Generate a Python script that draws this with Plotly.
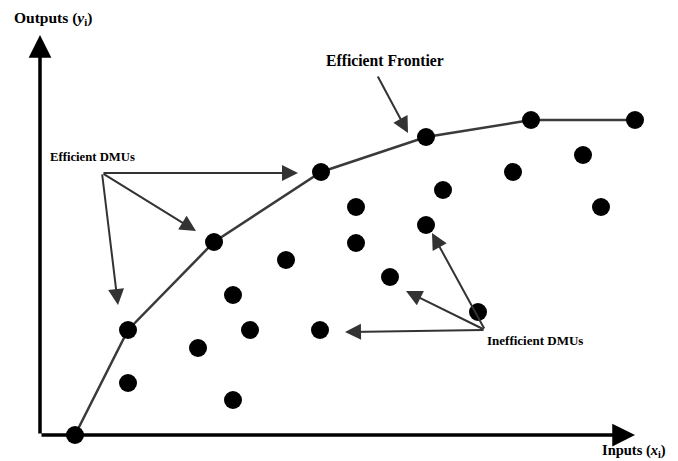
import plotly.graph_objects as go

# Efficient DMUs (on the frontier): inputs x, outputs y
eff_x = [3.5, 8.8, 17.4, 28.1, 38.6, 49.1, 59.5]
eff_y = [0.0, 10.5, 19.3, 26.3, 29.8, 31.5, 31.5]

# Inefficient DMUs
ineff_x = [8.8, 15.8, 19.3, 19.3, 21.0, 24.6, 28.0, 31.6, 31.6, 35.0, 38.6, 40.3, 43.8, 47.3, 54.3, 56.1]
ineff_y = [5.2, 8.7, 3.5, 14.0, 10.5, 17.5, 10.5, 22.8, 19.2, 15.8, 21.0, 24.5, 12.3, 26.3, 28.0, 22.8]

# Callout arrows: (tail_x, tail_y, tip_x, tip_y)
frontier_arrow = [(33.7, 36.0, 36.8, 30.2)]
eff_arrows = [(6.2, 26.2, 25.8, 26.2), (6.2, 26.2, 15.6, 20.4), (6.2, 26.2, 7.8, 13.0)]
ineff_arrows = [(44.5, 10.5, 39.2, 20.2), (44.5, 10.5, 36.6, 14.4), (44.5, 10.5, 30.5, 10.3)]
axis_arrows = [(0, 0, 0, 40.0), (0, 0, 59.5, 0)]

FONT = "Liberation Serif"

fig = go.Figure()
fig.add_trace(go.Scatter(x=eff_x, y=eff_y, mode="lines",
                         line=dict(color="#3a3a3a", width=2.5), hoverinfo="skip"))
fig.add_trace(go.Scatter(x=eff_x + ineff_x, y=eff_y + ineff_y, mode="markers",
                         marker=dict(color="black", size=18), hoverinfo="skip"))

ann = []
for (tx, ty, hx, hy) in axis_arrows:
    ann.append(dict(x=hx, y=hy, ax=tx, ay=ty, xref="x", yref="y", axref="x", ayref="y",
                    text="", showarrow=True, arrowhead=2, arrowsize=1.3, arrowwidth=3.5,
                    arrowcolor="black", standoff=0, startstandoff=0))
for (tx, ty, hx, hy) in frontier_arrow + eff_arrows + ineff_arrows:
    ann.append(dict(x=hx, y=hy, ax=tx, ay=ty, xref="x", yref="y", axref="x", ayref="y",
                    text="", showarrow=True, arrowhead=2, arrowsize=1.6, arrowwidth=2,
                    arrowcolor="#333333", standoff=0, startstandoff=0))

labels = [
    ("<b>Outputs (<i>y</i><sub>i</sub>)</b>", -2.8, 41.7, "left", 15.5),
    ("<b>Efficient Frontier</b>", 34.5, 37.5, "center", 15.7),
    ("<b>Efficient DMUs</b>", 0.8, 27.8, "left", 12.7),
    ("<b>Inefficient DMUs</b>", 44.5, 9.5, "left", 13),
    ("<b>Inputs (<i>x</i><sub>i</sub>)</b>", 56.0, -1.6, "left", 14.5),
]
for (t, x, y, xa, s) in labels:
    ann.append(dict(x=x, y=y, xref="x", yref="y", text=t, showarrow=False,
                    xanchor=xa, yanchor="middle", font=dict(family=FONT, size=s, color="black")))

fig.update_layout(
    width=670, height=453,
    margin=dict(l=0, r=0, t=0, b=0),
    paper_bgcolor="white", plot_bgcolor="white",
    showlegend=False,
    xaxis=dict(range=[-3.2, 63.8], visible=False, fixedrange=True),
    yaxis=dict(range=[-2.6, 42.7], visible=False, fixedrange=True),
    annotations=ann,
)
fig.write_html("out.html")
